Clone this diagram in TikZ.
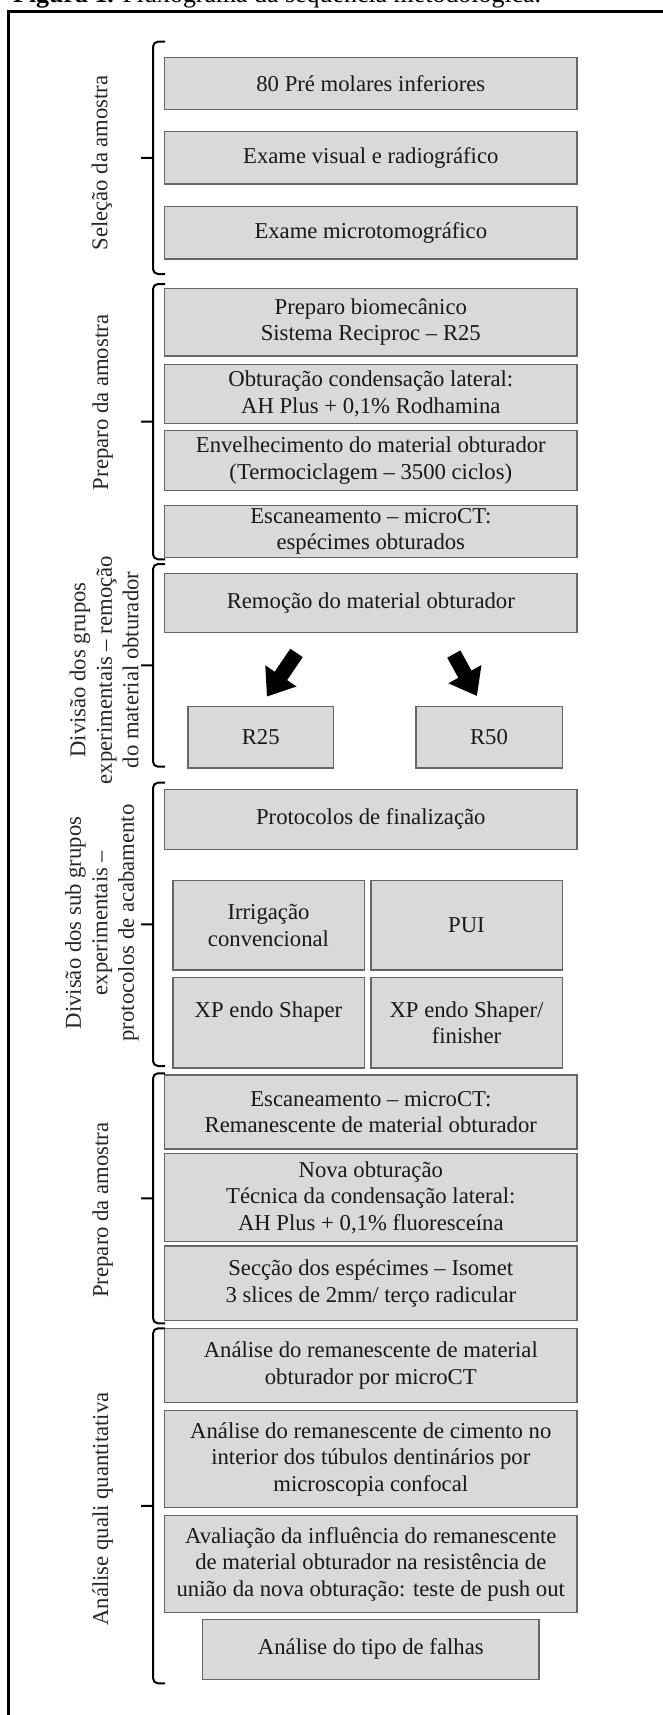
\documentclass[tikz,border=0pt]{standalone}
\usepackage{fontspec}
\setmainfont{Liberation Serif}
\usepackage{tikz}
\usetikzlibrary{arrows.meta}

\begin{document}
\begin{tikzpicture}[x=1pt, y=-1pt,
    every node/.style={font=\fontsize{22.7}{26.5}\selectfont, text=black!90},
    box/.style={draw=black!60, line width=1.5pt, fill=black!15, rectangle, align=center, inner sep=0pt, minimum width=412.4pt},
    smallbox/.style={box, minimum width=191.5pt, minimum height=89.5pt},
    grouplabel/.style={rotate=90, align=center, text=black!85},
    bracket/.style={line width=2pt, rounded corners=5pt},
    bigarrow/.style={line width=15pt, -{Triangle[length=25pt, width=36pt]}, shorten <=24pt, shorten >=11pt},
    frame/.style={line width=2.7pt}]
        \useasboundingbox (0,0) rectangle (662,1715);
        \draw[frame] (8.4,1725) -- (8.4,11.7) -- (672,11.7);
        \node[anchor=base west, font=\fontsize{25.9}{30}\selectfont, text=black, inner sep=0pt] (title) at (13,2.5) {\textbf{Figura 1.} Fluxograma da sequência metodológica.};

        \node[box, minimum height=52pt] (teeth) at (370.8,83.3) {80 Pré molares inferiores};
        \node[box, minimum height=52.3pt] (visual) at (370.8,157.8) {Exame visual e radiográfico};
        \node[box, minimum height=52.3pt] (microtomo) at (370.8,232.8) {Exame microtomográfico};
        \node[box, minimum height=67.7pt] (biomech) at (370.8,322.2) {Preparo biomecânico\\Sistema Reciproc – R25};
        \node[box, minimum height=59pt] (filling) at (370.8,393.8) {Obturação condensação lateral:\\AH Plus + 0,1\% Rodhamina};
        \node[box, minimum height=60pt] (aging) at (370.8,460.7) {Envelhecimento do material obturador\\(Termociclagem – 3500 ciclos)};
        \node[box, minimum height=52.4pt] (scan) at (370.8,531.5) {Escaneamento – microCT:\\espécimes obturados};
        \node[box, minimum height=59pt] (removal) at (370.8,602.8) {Remoção do material obturador};
        \path (removal.south) ++(-110.1,104.2) node[box, minimum width=145.7pt, minimum height=61.6pt] (rtf) {R25};
        \path (removal.south) ++(118.2,104.2) node[box, minimum width=146.5pt, minimum height=61.6pt] (rff) {R50};
        \node[box, minimum height=60pt] (protocols) at (370.8,819.3) {Protocolos de finalização};
        \path (protocols.south) ++(-102.3,75.4) node[smallbox] (irrig) {Irrigação\\convencional};
        \path (protocols.south) ++(95.7,75.4) node[smallbox] (pui) {PUI};
        \path (protocols.south) ++(-102.3,172.7) node[smallbox, minimum height=90.6pt] (xps) {XP endo Shaper\\\mbox{}};
        \path (protocols.south) ++(95.7,172.7) node[smallbox, minimum height=90.6pt] (xpf) {XP endo Shaper/\\finisher};
        \node[box, minimum height=73.7pt] (rescan) at (370.8,1111.9) {Escaneamento – microCT:\\Remanescente de material obturador};
        \node[box, minimum height=88.4pt] (refill) at (370.8,1197.5) {Nova obturação\\Técnica da condensação lateral:\\AH Plus + 0,1\% fluoresceína};
        \node[box, minimum height=74.7pt] (section) at (370.8,1283.3) {Secção dos espécimes – Isomet\\3 slices de 2mm/ terço radicular};
        \node[box, minimum height=74.4pt] (ctanalysis) at (370.8,1365.5) {Análise do remanescente de material\\obturador por microCT};
        \node[box, minimum height=97pt] (confocal) at (370.8,1459.2) {Análise do remanescente de cimento no\\interior dos túbulos dentinários por\\microscopia confocal};
        \node[box, minimum height=96.6pt] (pushout) at (370.8,1564) {Avaliação da influência do remanescente\\de material obturador na resistência de\\união da nova obturação: teste de push out};
        \node[box, minimum width=336.4pt, minimum height=60pt] (failures) at (370.8,1649.3) {Análise do tipo de falhas};

        \node[grouplabel] (selection) at (102,163) {Seleção da amostra};
        \node[grouplabel] (preparation) at (102.6,402.5) {Preparo da amostra};
        \node[grouplabel] (division) at (104,670) {Divisão dos grupos\\experimentais – remoção\\do material obturador};
        \node[grouplabel] (subdivision) at (102,923) {Divisão dos sub grupos\\experimentais –\\protocolos de acabamento};
        \node[grouplabel] (preparation2) at (102.6,1210) {Preparo da amostra};
        \node[grouplabel] (analysis) at (102.6,1509) {Análise quali quantitativa};

        \draw[bracket] (165,41.7) -- (153,41.7) -- (153,274) -- (165,274) (153,157.9) -- (141,157.9);
        \draw[bracket] (165,284) -- (153,284) -- (153,559.3) -- (165,559.3) (153,421.7) -- (141,421.7);
        \draw[bracket] (165,564) -- (153,564) -- (153,766.7) -- (165,766.7) (153,665.4) -- (141,665.4);
        \draw[bracket] (165,782.7) -- (153,782.7) -- (153,1066) -- (165,1066) (153,924.4) -- (141,924.4);
        \draw[bracket] (165,1073.3) -- (153,1073.3) -- (153,1323.3) -- (165,1323.3) (153,1198.3) -- (141,1198.3);
        \draw[bracket] (165,1328.3) -- (153,1328.3) -- (153,1683.3) -- (165,1683.3) (153,1505.8) -- (141,1505.8);

        \draw[bigarrow] ([xshift=-60.8pt]removal.south) -- (rtf.north);
        \draw[bigarrow] ([xshift=71.4pt]removal.south) -- ([xshift=-6.7pt]rff.north);
    \end{tikzpicture}
\end{document}
